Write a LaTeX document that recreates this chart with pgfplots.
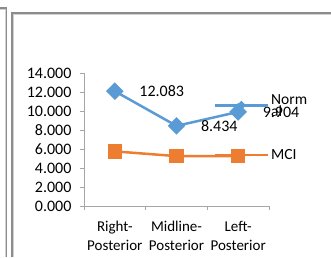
\documentclass[border=0pt]{standalone}
\usepackage{pgfplots}
\pgfplotsset{compat=1.18}
\usepackage{fontspec}
\setmainfont{Carlito}
\definecolor{nblue}{HTML}{5B9BD5}
\definecolor{morange}{HTML}{ED7D31}
\definecolor{bord}{HTML}{8C8C8C}
\begin{document}
\begin{tikzpicture}[x=1pt,y=1pt]
\draw[bord,line width=1.2pt] (0,249) -- (6.5,249) -- (6.5,0);
\draw[gray!35,line width=0.8pt] (0,247.8) -- (5.3,247.8) -- (5.3,0);
\draw[bord,line width=1.2pt] (12,0) -- (12,244) -- (331,244);
\draw[gray!35,line width=0.8pt] (13.2,0) -- (13.2,242.8) -- (331,242.8);
\begin{axis}[
  at={(84pt,51pt)}, anchor=south west,
  scale only axis, width=185pt, height=133pt,
  xmin=-0.5, xmax=2.5, ymin=0, ymax=14,
  axis lines*=left,
  axis line style={gray!70, line width=0.6pt},
  /pgf/number format/assume math mode=true,
  ytick={0,2,...,14},
  yticklabel style={font=\fontsize{16}{19}\selectfont, xshift=-5pt,
    /pgf/number format/.cd, fixed, fixed zerofill, precision=3},
  yticklabel={\pgfmathprintnumber{\tick}},
  ytick style={gray!70, line width=0.6pt},
  major tick length=4pt,
  tick align=outside,
  xtick={-0.5,0.5,1.5,2.5},
  xticklabels={},
  xtick style={gray!70, line width=0.6pt},
  extra x ticks={0,1,2},
  extra x tick labels={Right-\\Posterior, Midline-\\Posterior, Left-\\Posterior},
  extra x tick style={major tick length=0pt,
    xticklabel style={align=center, yshift=-12pt,
      font=\fontsize{15}{19}\selectfont}},
  clip=false,
  legend style={draw=none, fill=none, at={(0.70,0.552)}, anchor=west,
    font=\fontsize{15.5}{18}\selectfont, row sep=39pt, inner sep=0pt,
    cells={anchor=west}},
  legend image code/.code={%
    \draw[#1,mark=none,line width=2.5pt] (0pt,0pt) -- (53pt,0pt);
    \draw[#1,only marks,mark size=2pt] plot coordinates {(26.5pt,0pt)};},
]
\addplot[nblue, line width=2.5pt, mark=square*, mark size=5pt,
  mark options={rotate=45},
  nodes near coords={\pgfmathprintnumber[fixed,fixed zerofill,precision=3]{\pgfplotspointmeta}},
  every node near coord/.append style={anchor=west, xshift=20pt, black,
    font=\fontsize{16}{19}\selectfont}]
  coordinates {(0,12.083) (1,8.434) (2,9.904)};
\addlegendentry{\smash{\begin{tabular}[t]{@{}l@{}}Norm\\[-6pt]al\end{tabular}}}
\addplot[morange, line width=2.5pt, mark=square*, mark size=6pt]
  coordinates {(0,5.75) (1,5.25) (2,5.25)};
\addlegendentry{MCI}
\end{axis}
\pgfresetboundingbox
\path[use as bounding box] (0,0) rectangle (331,257);
\end{tikzpicture}
\end{document}
